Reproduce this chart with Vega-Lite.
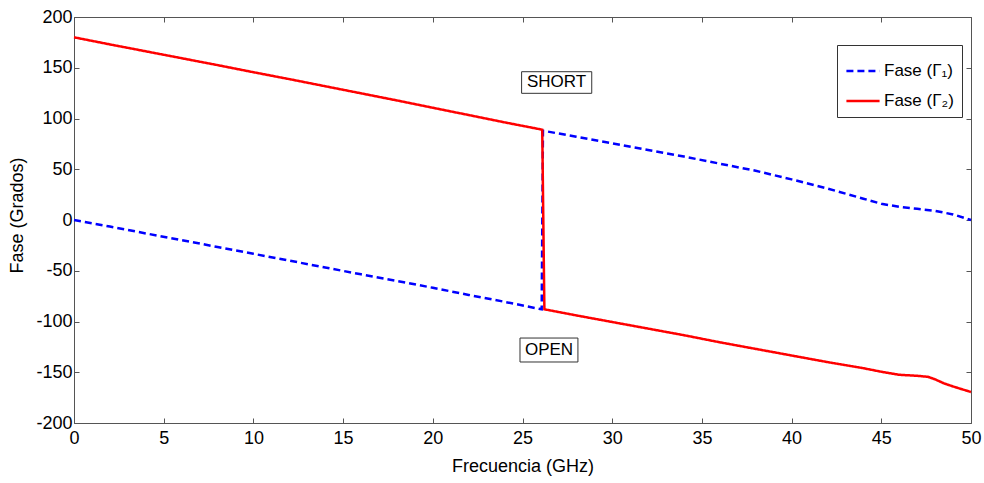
{
  "$schema": "https://vega.github.io/schema/vega-lite/v6.json",
  "width": 897,
  "height": 406,
  "autosize": "none",
  "padding": {"left": 74, "top": 17, "right": 13, "bottom": 60},
  "background": "white",
  "config": {
    "view": {"stroke": null},
    "font": "Liberation Sans",
    "axis": {
      "domainColor": "#555555",
      "tickColor": "#555555",
      "domainWidth": 1,
      "tickWidth": 1,
      "tickSize": -5,
      "grid": false,
      "labelFlush": false,
      "labelFont": "Liberation Sans",
      "labelFontSize": 18,
      "labelColor": "#000000",
      "titleFont": "Liberation Sans",
      "titleFontSize": 18,
      "titleFontWeight": "normal",
      "titleColor": "#000000"
    }
  },
  "datasets": {
    "lines": [
      {"serie": "Fase (Γ₁)", "freq": 0, "fase": 0},
      {"serie": "Fase (Γ₁)", "freq": 2, "fase": -6.5},
      {"serie": "Fase (Γ₁)", "freq": 4, "fase": -13.2},
      {"serie": "Fase (Γ₁)", "freq": 6, "fase": -19.8},
      {"serie": "Fase (Γ₁)", "freq": 8, "fase": -26.6},
      {"serie": "Fase (Γ₁)", "freq": 10, "fase": -33.3},
      {"serie": "Fase (Γ₁)", "freq": 12, "fase": -40},
      {"serie": "Fase (Γ₁)", "freq": 14, "fase": -46.8},
      {"serie": "Fase (Γ₁)", "freq": 16, "fase": -53.5},
      {"serie": "Fase (Γ₁)", "freq": 18, "fase": -60},
      {"serie": "Fase (Γ₁)", "freq": 20, "fase": -66.8},
      {"serie": "Fase (Γ₁)", "freq": 22, "fase": -73.8},
      {"serie": "Fase (Γ₁)", "freq": 24, "fase": -80.6},
      {"serie": "Fase (Γ₁)", "freq": 26.07, "fase": -88},
      {"serie": "Fase (Γ₁)", "freq": 26.14, "fase": 88},
      {"serie": "Fase (Γ₁)", "freq": 28, "fase": 82},
      {"serie": "Fase (Γ₁)", "freq": 30, "fase": 75.5},
      {"serie": "Fase (Γ₁)", "freq": 32, "fase": 69},
      {"serie": "Fase (Γ₁)", "freq": 34, "fase": 62.5},
      {"serie": "Fase (Γ₁)", "freq": 36, "fase": 55.5},
      {"serie": "Fase (Γ₁)", "freq": 38, "fase": 48.5},
      {"serie": "Fase (Γ₁)", "freq": 40, "fase": 40},
      {"serie": "Fase (Γ₁)", "freq": 42, "fase": 31},
      {"serie": "Fase (Γ₁)", "freq": 44, "fase": 21},
      {"serie": "Fase (Γ₁)", "freq": 45, "fase": 16},
      {"serie": "Fase (Γ₁)", "freq": 46, "fase": 13},
      {"serie": "Fase (Γ₁)", "freq": 47, "fase": 11},
      {"serie": "Fase (Γ₁)", "freq": 48, "fase": 9},
      {"serie": "Fase (Γ₁)", "freq": 49, "fase": 5.5},
      {"serie": "Fase (Γ₁)", "freq": 50, "fase": 0},
      {"serie": "Fase (Γ₂)", "freq": 0, "fase": 180},
      {"serie": "Fase (Γ₂)", "freq": 2, "fase": 173},
      {"serie": "Fase (Γ₂)", "freq": 4, "fase": 166.2},
      {"serie": "Fase (Γ₂)", "freq": 6, "fase": 159.4},
      {"serie": "Fase (Γ₂)", "freq": 8, "fase": 152.6},
      {"serie": "Fase (Γ₂)", "freq": 10, "fase": 145.6},
      {"serie": "Fase (Γ₂)", "freq": 12, "fase": 138.8},
      {"serie": "Fase (Γ₂)", "freq": 14, "fase": 131.8},
      {"serie": "Fase (Γ₂)", "freq": 16, "fase": 124.8},
      {"serie": "Fase (Γ₂)", "freq": 18, "fase": 117.8},
      {"serie": "Fase (Γ₂)", "freq": 20, "fase": 110.6},
      {"serie": "Fase (Γ₂)", "freq": 22, "fase": 103.4},
      {"serie": "Fase (Γ₂)", "freq": 24, "fase": 96.2},
      {"serie": "Fase (Γ₂)", "freq": 26.1, "fase": 89},
      {"serie": "Fase (Γ₂)", "freq": 26.22, "fase": -88},
      {"serie": "Fase (Γ₂)", "freq": 28, "fase": -94},
      {"serie": "Fase (Γ₂)", "freq": 30, "fase": -100.5},
      {"serie": "Fase (Γ₂)", "freq": 32, "fase": -107},
      {"serie": "Fase (Γ₂)", "freq": 34, "fase": -113.5},
      {"serie": "Fase (Γ₂)", "freq": 36, "fase": -120.5},
      {"serie": "Fase (Γ₂)", "freq": 38, "fase": -127},
      {"serie": "Fase (Γ₂)", "freq": 40, "fase": -133.5},
      {"serie": "Fase (Γ₂)", "freq": 42, "fase": -140},
      {"serie": "Fase (Γ₂)", "freq": 44, "fase": -146},
      {"serie": "Fase (Γ₂)", "freq": 45, "fase": -149.5},
      {"serie": "Fase (Γ₂)", "freq": 46, "fase": -152.5},
      {"serie": "Fase (Γ₂)", "freq": 47, "fase": -153.5},
      {"serie": "Fase (Γ₂)", "freq": 47.6, "fase": -154.5},
      {"serie": "Fase (Γ₂)", "freq": 48, "fase": -157},
      {"serie": "Fase (Γ₂)", "freq": 48.5, "fase": -161},
      {"serie": "Fase (Γ₂)", "freq": 49, "fase": -164},
      {"serie": "Fase (Γ₂)", "freq": 50, "fase": -169.5}
    ],
    "notes": [
      {"label": "SHORT", "x": 26.9, "y": 135.5, "x1": 24.95, "x2": 28.86, "y1": 146.1, "y2": 124.8},
      {"label": "OPEN", "x": 26.48, "y": -128, "x1": 24.86, "x2": 28.09, "y1": -116.3, "y2": -139.9}
    ]
  },
  "resolve": {"axis": {"x": "independent", "y": "independent"}},
  "layer": [
    {
      "data": {"name": "notes"},
      "mark": {"type": "rect", "fill": "white", "stroke": "#333333", "strokeWidth": 1},
      "encoding": {
        "x": {"field": "x1", "type": "quantitative", "scale": {"domain": [0, 50], "nice": false}, "axis": null},
        "x2": {"field": "x2"},
        "y": {"field": "y1", "type": "quantitative", "scale": {"domain": [-200, 200], "nice": false}, "axis": null},
        "y2": {"field": "y2"}
      }
    },
    {
      "data": {"name": "notes"},
      "mark": {"type": "text", "font": "Liberation Sans", "fontSize": 17, "color": "black", "align": "center", "baseline": "middle"},
      "encoding": {
        "x": {"field": "x", "type": "quantitative", "axis": null},
        "y": {"field": "y", "type": "quantitative", "axis": null},
        "text": {"field": "label"}
      }
    },
    {
      "data": {"name": "lines"},
      "mark": {"type": "line", "strokeWidth": 2.5, "opacity": 0},
      "encoding": {
        "x": {"field": "freq", "type": "quantitative", "axis": {"orient": "top", "labels": false, "title": null, "values": [0,5,10,15,20,25,30,35,40,45,50]}},
        "y": {"field": "fase", "type": "quantitative", "axis": {"orient": "right", "labels": false, "title": null, "values": [-200,-150,-100,-50,0,50,100,150,200]}},
        "detail": {"field": "serie"}
      }
    },
    {
      "data": {"name": "lines"},
      "mark": {"type": "line", "strokeWidth": 2.5},
      "encoding": {
        "x": {"field": "freq", "type": "quantitative", "title": "Frecuencia (GHz)",
          "axis": {"orient": "bottom", "values": [0,5,10,15,20,25,30,35,40,45,50], "labelPadding": 11, "titleBaseline": "middle", "titleY": 43}},
        "y": {"field": "fase", "type": "quantitative", "title": "Fase (Grados)",
          "axis": {"orient": "left", "values": [-200,-150,-100,-50,0,50,100,150,200], "labelExpr": "replace(datum.label, '−', '-')", "labelPadding": 7, "titleX": -57, "titleY": 198, "titleBaseline": "middle", "titleAlign": "center", "titleAngle": -90}},
        "color": {"field": "serie", "type": "nominal",
          "scale": {"domain": ["Fase (Γ₁)", "Fase (Γ₂)"], "range": ["#0000FF", "#FF0000"]},
          "legend": {"orient": "none", "legendX": 763, "legendY": 28, "title": null, "symbolType": "stroke", "symbolSize": 1100, "symbolStrokeWidth": 2.5, "labelFont": "Liberation Sans", "labelFontSize": 17, "labelColor": "black", "strokeColor": "#333333", "fillColor": "white", "padding": 8, "rowPadding": 4, "labelOffset": 3}},
        "strokeDash": {"field": "serie", "type": "nominal",
          "scale": {"domain": ["Fase (Γ₁)", "Fase (Γ₂)"], "range": [[7, 4], [1, 0]]},
          "legend": {"orient": "none", "legendX": 763, "legendY": 28, "title": null, "symbolType": "stroke", "symbolSize": 1100, "symbolStrokeWidth": 2.5, "labelFont": "Liberation Sans", "labelFontSize": 17, "labelColor": "black", "strokeColor": "#333333", "fillColor": "white", "padding": 8, "rowPadding": 4, "labelOffset": 3}}
      }
    }
  ]
}
